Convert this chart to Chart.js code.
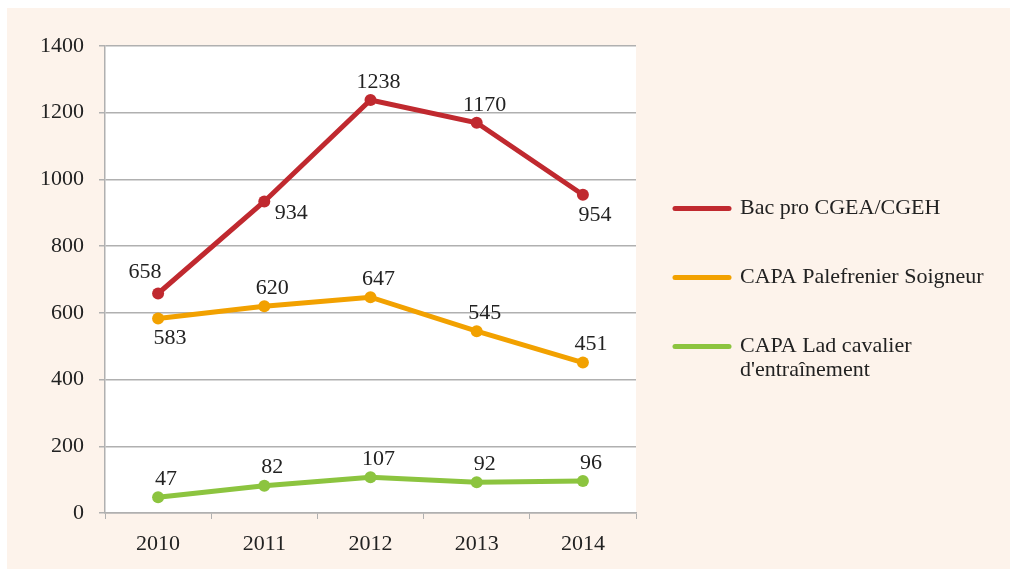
<!DOCTYPE html>
<html>
<head>
<meta charset="utf-8">
<script src="https://cdn.jsdelivr.net/npm/chart.js@4/dist/chart.umd.min.js"></script>
<style>
  html, body { margin: 0; padding: 0; background: #ffffff; }
  #wrap { position: absolute; left: 0; top: 0; width: 1010px; height: 569px; }
</style>
</head>
<body>
<div id="wrap"><canvas id="chart" width="1010" height="569"></canvas></div>
<script>
// data
const years = ['2010', '2011', '2012', '2013', '2014'];
const bacPro = [658, 934, 1238, 1170, 954];
const capaPalefrenier = [583, 620, 647, 545, 451];
const capaLad = [47, 82, 107, 92, 96];
const seriesNames = ['Bac pro CGEA/CGEH', 'CAPA Palefrenier Soigneur', "CAPA Lad cavalier\nd'entraînement"];
const yTicks = [0, 200, 400, 600, 800, 1000, 1200, 1400];

const serif = "'Liberation Serif', 'DejaVu Serif', serif";
const red = '#c0292f';
const orange = '#f2a100';
const green = '#8cc43f';

// where each value label sits next to its point
const labelSpots = [
    ['left', 'right', 'above', 'above', 'below'],
    ['below', 'above', 'above', 'above', 'above'],
    ['above', 'above', 'above', 'above', 'above']
];
const spotOffset = {
    above: [8, -18],
    below: [12, 20],
    left: [-13, -21],
    right: [27, 12]
};

const backdrop = {
    id: 'backdrop',
    beforeDraw(chart) {
        const ctx = chart.ctx, a = chart.chartArea;
        ctx.save();
        ctx.fillStyle = '#fdf3eb';
        ctx.fillRect(7, 8, chart.width - 7, chart.height - 8);
        ctx.fillStyle = '#ffffff';
        ctx.fillRect(a.left, a.top, a.right - a.left, a.bottom - a.top);
        ctx.restore();
    }
};

const valueLabels = {
    id: 'valueLabels',
    afterDatasetsDraw(chart) {
        const ctx = chart.ctx;
        ctx.save();
        ctx.font = '22px ' + serif;
        ctx.fillStyle = '#222222';
        ctx.textAlign = 'center';
        ctx.textBaseline = 'middle';
        chart.data.datasets.forEach((ds, i) => {
            chart.getDatasetMeta(i).data.forEach((pt, j) => {
                const off = spotOffset[labelSpots[i][j]];
                ctx.fillText(String(ds.data[j]), pt.x + off[0], pt.y + off[1]);
            });
        });
        ctx.restore();
    }
};

const sideLegend = {
    id: 'sideLegend',
    afterDraw(chart) {
        const ctx = chart.ctx, a = chart.chartArea;
        const x0 = a.right + 39;
        const mid = (a.top + a.bottom) / 2;
        const gap = 69;
        ctx.save();
        ctx.font = '22px ' + serif;
        ctx.fillStyle = '#222222';
        ctx.textAlign = 'left';
        ctx.textBaseline = 'middle';
        chart.data.datasets.forEach((ds, i) => {
            const y = mid - 71 + i * gap;
            ctx.strokeStyle = ds.borderColor;
            ctx.lineWidth = 5;
            ctx.lineCap = 'round';
            ctx.beginPath();
            ctx.moveTo(x0, y);
            ctx.lineTo(x0 + 54, y);
            ctx.stroke();
            ds.label.split('\n').forEach((line, k) => {
                ctx.fillText(line, x0 + 65, y + k * 24);
            });
        });
        ctx.restore();
    }
};

function makeSeries(name, values, color) {
    return {
        label: name,
        data: values,
        borderColor: color,
        backgroundColor: color,
        borderWidth: 5,
        pointRadius: 6,
        pointHoverRadius: 6,
        pointBorderWidth: 0,
        tension: 0
    };
}

const grey = '#b0b0b0';

new Chart(document.getElementById('chart').getContext('2d'), {
    type: 'line',
    data: {
        labels: years,
        datasets: [
            makeSeries(seriesNames[0], bacPro, red),
            makeSeries(seriesNames[1], capaPalefrenier, orange),
            makeSeries(seriesNames[2], capaLad, green)
        ]
    },
    options: {
        responsive: false,
        animation: false,
        layout: { padding: { left: 0, top: 46, right: 374, bottom: 0 } },
        plugins: {
            legend: { display: false },
            tooltip: { enabled: false }
        },
        scales: {
            x: {
                offset: true,
                grid: {
                    offset: true,
                    drawOnChartArea: false,
                    color: grey,
                    tickLength: 6
                },
                border: { color: grey, width: 1.5 },
                ticks: {
                    color: '#222222',
                    font: { family: serif, size: 22 },
                    padding: 12
                },
                afterFit(scale) { scale.height = 56; }
            },
            y: {
                min: 0,
                max: 1400,
                afterBuildTicks(scale) { scale.ticks = yTicks.map(v => ({ value: v })); },
                grid: { color: grey, lineWidth: 1.5, tickLength: 6 },
                border: { color: grey, width: 1.5 },
                ticks: {
                    color: '#222222',
                    font: { family: serif, size: 22 },
                    padding: 15,
                    callback: v => String(v)
                },
                afterFit(scale) { scale.width = 105; }
            }
        }
    },
    plugins: [backdrop, valueLabels, sideLegend]
});
</script>
</body>
</html>
